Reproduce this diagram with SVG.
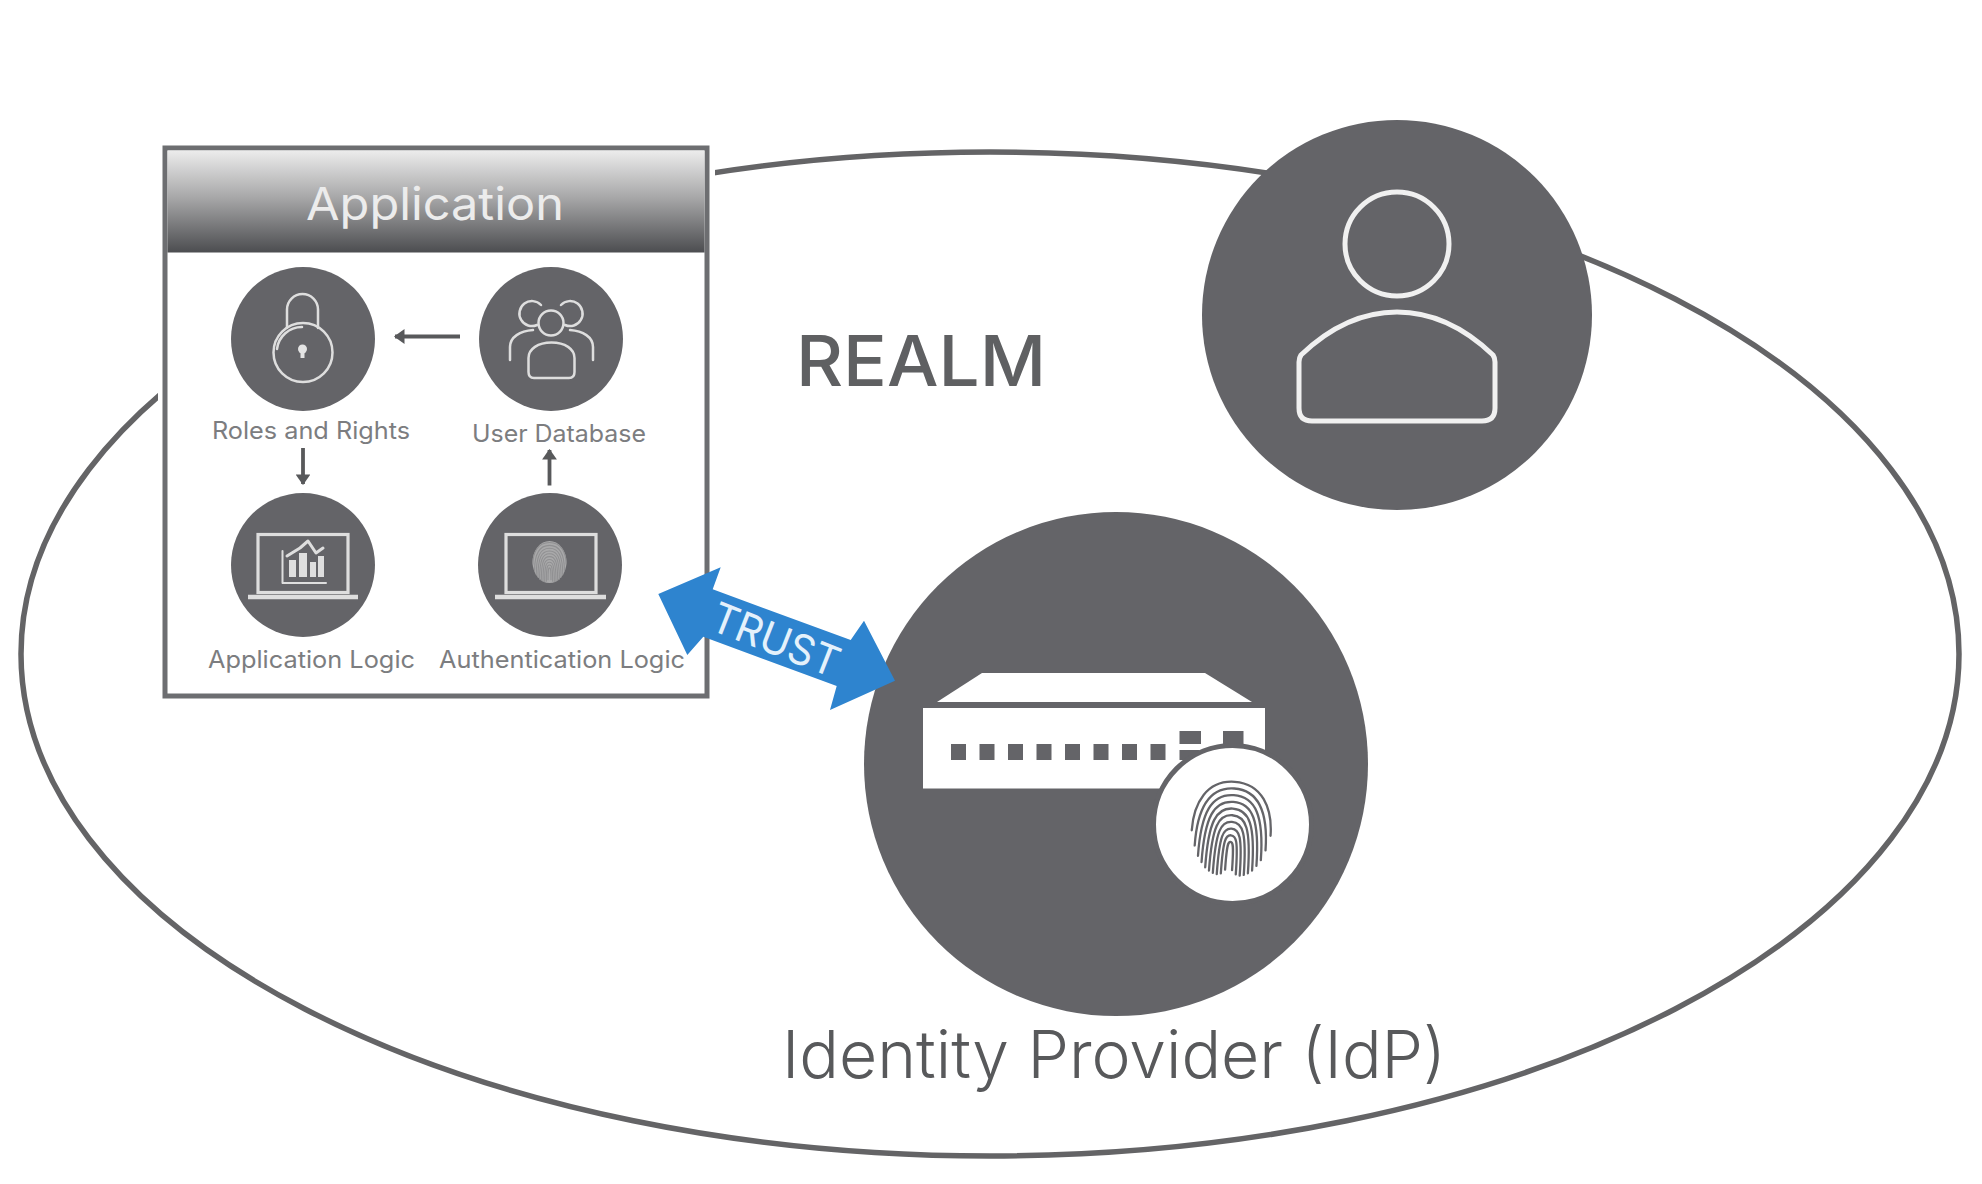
<svg xmlns="http://www.w3.org/2000/svg" xmlns:xlink="http://www.w3.org/1999/xlink" width="1982" height="1184" viewBox="0 0 1982 1184">
<style>
text{font-family:Inter,"Liberation Sans",sans-serif}
.disc{fill:#646468}
.icon{fill:none;stroke:#dedede;stroke-width:2.5;stroke-linecap:round;stroke-linejoin:round}
.screen{fill:none;stroke:#dedede;stroke-width:3.2}
.label{font-size:24px;fill:#7c7d80}
.fp path{fill:none;stroke-linecap:round}
.small{fill:none;stroke:#58595b;stroke-width:3.8}
</style>
<defs>
<linearGradient id="hdr" x1="0" y1="0" x2="0" y2="1">
<stop offset="0" stop-color="#ececec"/><stop offset=".45" stop-color="#a9a9aa"/><stop offset="1" stop-color="#4c4d50"/>
</linearGradient>
<marker id="ah" viewBox="0 0 10 14" refX="9" refY="7" markerWidth="2.8" markerHeight="3.9" orient="auto"><path d="M0 0L10 7L0 14Z" fill="#58595b"/></marker>
<g id="print" class="fp">
<path d="M-3.500 42C-3.500 16-2.450 14 0 14S3.500 16 3.500 42"/>
<path d="M-7.500 46C-7.500 11.800-5.250 7.300 0 7.300S7.500 11.800 7.500 46"/>
<path d="M-11.500 47C-11.500 7.500-8.050 .6 0 .6S11.500 7.500 11.500 47"/>
<path d="M-15.500 46C-15.500 3.200-10.850-6.100 0-6.100S15.500 3.200 15.500 46"/>
<path d="M-19.500 44C-19.500-1.100-13.650-12.800 0-12.800S19.500-1.100 19.500 44"/>
<path d="M-23.500 41C-23.500-5.400-16.450-19.500 0-19.500S23.500-5.400 23.500 41"/>
<path d="M-27.500 36C-27.500-9.700-19.250-26.200 0-26.200S27.500-9.700 27.500 36"/>
<path d="M-31.500 30C-31.500-14-22.050-32.900 0-32.900S31.500-14 31.500 30"/>
<path d="M-35.500 20C-35.500-18.300-24.850-39.600 0-39.600S35.500-18.300 35.500 20"/>
<path d="M-39.500 5C-39.500-22.600-27.650-46.300 0-46.300S39.500-22.600 39.500 5"/>
</g>
</defs>
<rect width="1982" height="1184" fill="#fff"/>

<g id="realm">
<ellipse cx="990" cy="654" rx="969" ry="502" fill="none" stroke="#646466" stroke-width="5.500"/>
<rect x="158" y="135" width="557" height="570" fill="#fff"/>
<text x="796" y="386" font-size="70" font-weight="500" fill="#5f6062" textLength="250" lengthAdjust="spacingAndGlyphs">REALM</text>
</g>

<g id="application">
<rect x="165" y="148" width="542" height="548" fill="#fff" stroke="#6d6e71" stroke-width="5"/>
<rect x="167.500" y="150.500" width="537" height="102" fill="url(#hdr)"/>
<text x="306" y="220" font-size="45" fill="#ececec" textLength="258" lengthAdjust="spacingAndGlyphs">Application</text>
</g>

<g id="roles-and-rights">
<circle class="disc" cx="303" cy="339" r="72"/>
<path class="icon" d="M287 328V309.500A15.500 15.500 0 0 1 318 309.500V328"/>
<circle class="icon" cx="303" cy="352.500" r="29.500"/>
<path class="icon" d="M277 349A25 25 0 0 1 302 327"/>
<circle cx="302.500" cy="349" r="4.500" fill="#e4e4e4"/><rect x="300.500" y="349" width="4" height="9" fill="#e4e4e4"/>
<text class="label" x="212" y="439" textLength="198" lengthAdjust="spacingAndGlyphs">Roles and Rights</text>
</g>

<g id="user-database">
<circle class="disc" cx="551" cy="339" r="72"/>
<circle class="icon" cx="551" cy="323" r="12.500"/>
<path class="icon" d="M537 325A12.500 12.500 0 1 1 541 305M565 325A12.500 12.500 0 1 0 561 305"/>
<path class="icon" d="M510 360V347C510 337 520 331 533 330M593 360V347C593 337 583 331 570 330"/>
<path class="icon" d="M528.500 372V358C528.500 349 538 342.500 551.500 342.500S574.500 349 574.500 358V372Q574.500 378 569 378H534Q528.500 378 528.500 372Z"/>
<text class="label" x="472" y="441.500" textLength="174" lengthAdjust="spacingAndGlyphs">User Database</text>
</g>

<g id="application-logic">
<circle class="disc" cx="303" cy="565" r="72"/>
<rect class="screen" x="258" y="534.500" width="90" height="58"/>
<path d="M248 597H358" stroke="#dedede" stroke-width="4.500" fill="none"/>
<path class="icon" d="M282.500 551V583H326" style="stroke-width:2"/>
<path d="M289 577V560h7V577ZM299 577V553h8V577ZM310 577V562h6V577ZM318 577V556h6V577Z" fill="#dedede"/>
<path class="icon" d="M287 556L300 548L308 541L316 553L323 548" style="stroke-width:3"/>
<text class="label" x="208" y="668" textLength="207" lengthAdjust="spacingAndGlyphs">Application Logic</text>
</g>

<g id="authentication-logic">
<circle class="disc" cx="550" cy="565" r="72"/>
<rect class="screen" x="506" y="534.500" width="90" height="58"/>
<path d="M495 597H606" stroke="#dedede" stroke-width="4.500" fill="none"/>
<ellipse cx="549.500" cy="562" rx="17" ry="21" fill="#a9a9aa"/>
<use xlink:href="#print" href="#print" transform="translate(549.500 562) scale(.42)" stroke="#909092" stroke-width="2.500"/>
<text class="label" x="439" y="668" textLength="246" lengthAdjust="spacingAndGlyphs">Authentication Logic</text>
</g>

<g id="user">
<circle class="disc" cx="1397" cy="315" r="195"/>
<circle cx="1397" cy="244" r="52" fill="none" stroke="#f0f0f0" stroke-width="5"/>
<path d="M1301 355Q1346 312 1397 312T1493 355Q1495 358 1495 362V408Q1495 421 1482 421H1312Q1299 421 1299 408V362Q1299 358 1301 355Z" fill="none" stroke="#f0f0f0" stroke-width="5"/>
</g>

<g id="identity-provider">
<circle class="disc" cx="1116" cy="764" r="252"/>
<path d="M937 702L982 673H1205L1252 702Z" fill="#fff"/>
<rect x="923" y="708" width="342" height="80.500" fill="#fff"/>
<g fill="#646468">
<rect x="951" y="744" width="15" height="16"/><rect x="979.500" y="744" width="15" height="16"/><rect x="1008" y="744" width="15" height="16"/><rect x="1036.500" y="744" width="15" height="16"/><rect x="1065" y="744" width="15" height="16"/><rect x="1093.500" y="744" width="15" height="16"/><rect x="1122" y="744" width="15" height="16"/><rect x="1150.500" y="744" width="15" height="16"/>
<rect x="1179.500" y="731" width="21.500" height="13"/><rect x="1223" y="731" width="20.500" height="13"/><rect x="1179.500" y="750" width="20" height="10"/>
</g>
<circle cx="1232.500" cy="824.500" r="79" fill="#fff" stroke="#646468" stroke-width="5"/>
<use xlink:href="#print" href="#print" transform="translate(1231.500 828) rotate(4)" stroke="#646468" stroke-width="2.300"/>
<text x="782" y="1078" font-size="66" font-weight="300" fill="#58595b" textLength="664" lengthAdjust="spacingAndGlyphs">Identity Provider (IdP)</text>
</g>

<g id="connectors">
<path class="small" marker-end="url(#ah)" d="M460 336.500H395"/>
<path class="small" marker-end="url(#ah)" d="M303 448V484"/>
<path class="small" marker-end="url(#ah)" d="M549.500 485.500V450"/>
<polygon points="658.300,594 720.700,567.300 712.700,589.300 850.700,640 864,620.700 895,680.700 830,710 836.700,686 703.300,636.700 687.300,655" fill="#2e84cf"/>
<text transform="translate(708 629) rotate(21.500)" font-size="42" fill="#e4f1fb" textLength="134" lengthAdjust="spacingAndGlyphs">TRUST</text>
</g>
</svg>
